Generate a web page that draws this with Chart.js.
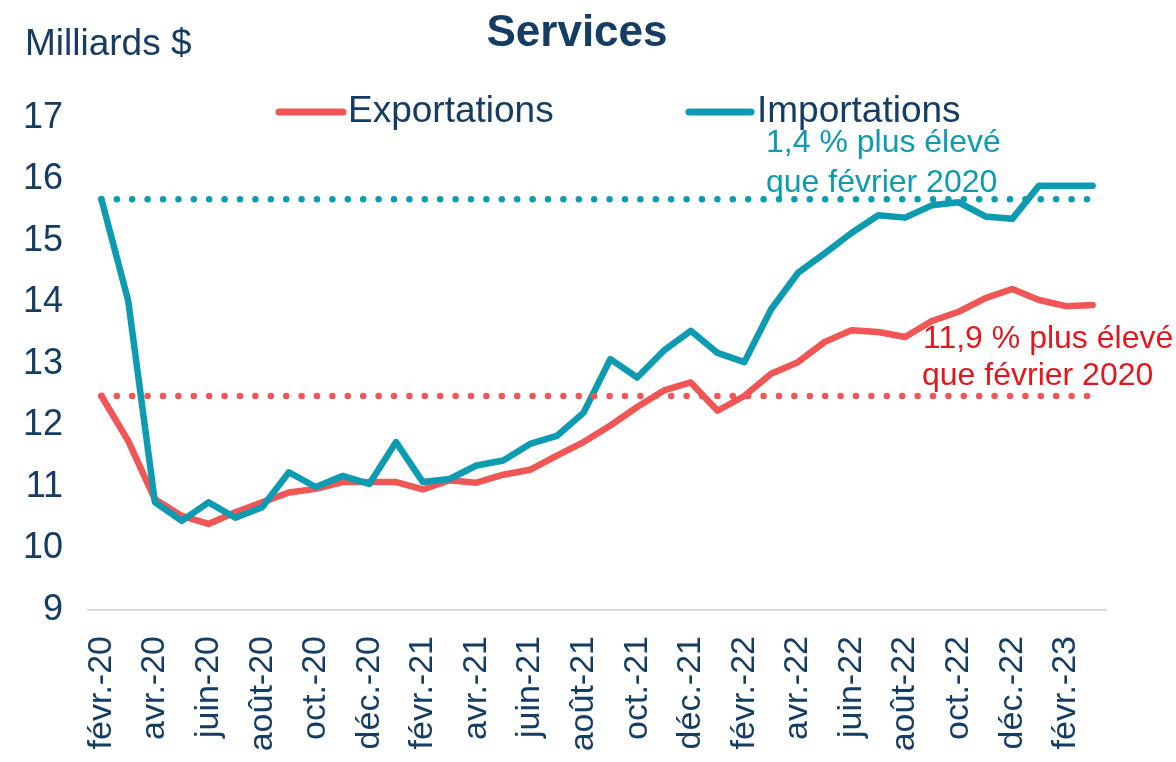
<!DOCTYPE html>
<html>
<head>
<meta charset="utf-8">
<script src="https://cdn.jsdelivr.net/npm/chart.js@4/dist/chart.umd.min.js"></script>
<style>
  html, body { margin: 0; padding: 0; background: #ffffff; }
  #wrap { width: 1176px; height: 762px; position: relative; }
  canvas { display: block; }
</style>
</head>
<body>
<div id="wrap"><canvas id="c" width="1176" height="762"></canvas></div>
<script>
// ---- Data ----
const months = [
  "févr.-20","mars-20","avr.-20","mai-20","juin-20","juil.-20","août-20","sept.-20","oct.-20","nov.-20","déc.-20","janv.-21",
  "févr.-21","mars-21","avr.-21","mai-21","juin-21","juil.-21","août-21","sept.-21","oct.-21","nov.-21","déc.-21","janv.-22",
  "févr.-22","mars-22","avr.-22","mai-22","juin-22","juil.-22","août-22","sept.-22","oct.-22","nov.-22","déc.-22","janv.-23",
  "févr.-23","mars-23"
];
const exportations = [
  12.48, 11.75, 10.80, 10.53, 10.40, 10.59, 10.75, 10.91, 10.97, 11.08, 11.08, 11.08,
  10.96, 11.11, 11.07, 11.20, 11.28, 11.51, 11.73, 12.00, 12.30, 12.57, 12.70, 12.24,
  12.48, 12.84, 13.03, 13.36, 13.55, 13.52, 13.44, 13.70, 13.85, 14.07, 14.22, 14.04,
  13.94, 13.96
];
const importations = [
  15.68, 14.03, 10.75, 10.45, 10.75, 10.50, 10.67, 11.24, 11.00, 11.18, 11.05, 11.73,
  11.08, 11.13, 11.35, 11.43, 11.70, 11.83, 12.21, 13.08, 12.78, 13.22, 13.54, 13.18,
  13.03, 13.89, 14.48, 14.80, 15.13, 15.42, 15.38, 15.58, 15.63, 15.40, 15.36, 15.90,
  15.90, 15.90
];
const refExportFeb2020 = 12.48;
const refImportFeb2020 = 15.68;
const yTicks = [9, 10, 11, 12, 13, 14, 15, 16, 17];
const seriesNames = ["Exportations", "Importations"];
const annotImport = ["1,4 % plus élevé", "que février 2020"];
const annotExport = ["11,9 % plus élevé", "que février 2020"];
const titleText = "Services";
const unitText = "Milliards $";

// ---- Styles ----
const RED = "#F05656";
const TEAL = "#0C9BB0";
const NAVY = "#153D63";
const RED_TEXT = "#E3161E";
const FONT = "'Liberation Sans', Arial, Helvetica, sans-serif";

const overlay = {
  id: "overlay",
  afterDraw(chart) {
    const ctx = chart.ctx;
    ctx.save();
    // Title
    ctx.fillStyle = NAVY;
    ctx.textBaseline = "middle";
    ctx.textAlign = "center";
    ctx.font = "bold 44px " + FONT;
    ctx.fillText(titleText, 577, 34);
    // Unit
    ctx.textAlign = "left";
    ctx.font = "37px " + FONT;
    ctx.fillText(unitText, 25, 45);
    // Legend
    const leg = [
      { x0: 279, x1: 343, tx: 348, color: RED, name: seriesNames[0] },
      { x0: 689, x1: 751, tx: 757, color: TEAL, name: seriesNames[1] }
    ];
    ctx.font = "37px " + FONT;
    leg.forEach(l => {
      ctx.strokeStyle = l.color;
      ctx.lineWidth = 7;
      ctx.lineCap = "round";
      ctx.beginPath();
      ctx.moveTo(l.x0, 112);
      ctx.lineTo(l.x1, 112);
      ctx.stroke();
      ctx.fillStyle = NAVY;
      ctx.fillText(l.name, l.tx, 112);
    });
    // Annotations
    ctx.font = "32px " + FONT;
    ctx.fillStyle = TEAL;
    ctx.fillText(annotImport[0], 766, 143);
    ctx.fillText(annotImport[1], 766, 183);
    ctx.fillStyle = RED_TEXT;
    ctx.fillText(annotExport[0], 923, 339);
    ctx.fillText(annotExport[1], 922, 376);
    ctx.restore();
  }
};

new Chart(document.getElementById("c"), {
  type: "line",
  data: {
    labels: months,
    datasets: [
      {
        label: "refImport",
        data: months.map(() => refImportFeb2020),
        borderColor: TEAL, borderWidth: 6.5, borderDash: [0, 15.4], borderCapStyle: "round",
        pointRadius: 0, order: 0
      },
      {
        label: "refExport",
        data: months.map(() => refExportFeb2020),
        borderColor: RED, borderWidth: 6.5, borderDash: [0, 15.4], borderCapStyle: "round",
        pointRadius: 0, order: 0
      },
      {
        label: seriesNames[1],
        data: importations,
        borderColor: TEAL, borderWidth: 6.5, pointRadius: 0, tension: 0,
        borderJoinStyle: "round", borderCapStyle: "round", order: 1
      },
      {
        label: seriesNames[0],
        data: exportations,
        borderColor: RED, borderWidth: 6.5, pointRadius: 0, tension: 0,
        borderJoinStyle: "round", borderCapStyle: "round", order: 2
      }
    ]
  },
  options: {
    responsive: false,
    animation: false,
    devicePixelRatio: 1,
    layout: { padding: { top: 118, right: 70, left: 0, bottom: 0 } },
    plugins: { legend: { display: false }, title: { display: false }, tooltip: { enabled: false } },
    scales: {
      x: {
        type: "category",
        offset: true,
        grid: { display: false, drawTicks: false },
        border: { display: true, color: "#D9D9D9", width: 2 },
        ticks: {
          autoSkip: false, maxRotation: 90, minRotation: 90, padding: 26,
          color: NAVY, font: { family: FONT, size: 34 },
          callback: function (v, i) { return i % 2 === 0 ? months[i] : ""; }
        },
        afterFit: function (s) { s.height = 152; }
      },
      y: {
        min: yTicks[0], max: yTicks[yTicks.length - 1],
        grid: { display: false, drawTicks: false },
        border: { display: false },
        afterBuildTicks: function (s) { s.ticks = yTicks.map(v => ({ value: v })); },
        ticks: { padding: 25, color: NAVY, font: { family: FONT, size: 36 } },
        afterFit: function (s) { s.width = 88; }
      }
    }
  },
  plugins: [overlay]
});
</script>
</body>
</html>
